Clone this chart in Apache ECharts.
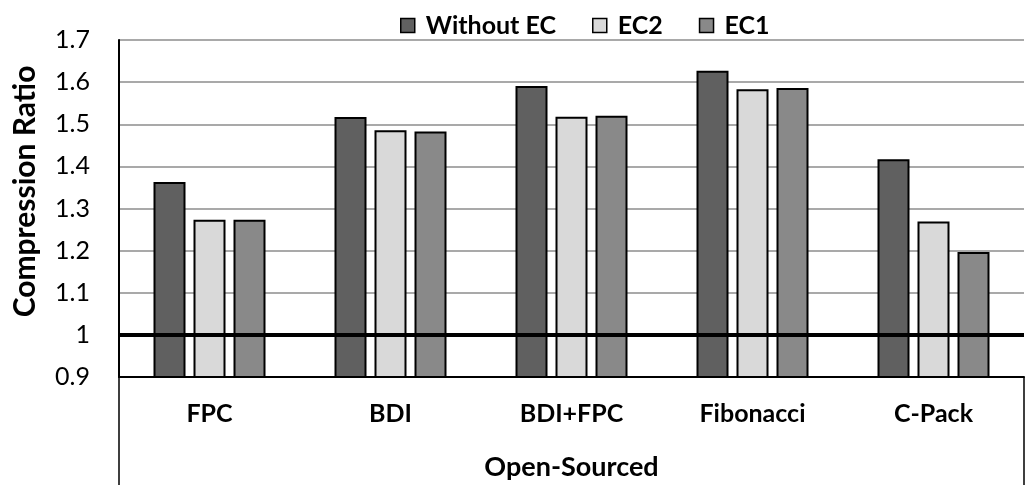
<!DOCTYPE html>
<html>
<head>
<meta charset="utf-8">
<script src="https://cdn.jsdelivr.net/npm/echarts@6/dist/echarts.min.js"></script>
<style>
  html, body { margin: 0; padding: 0; background: #fff; }
</style>
</head>
<body>
<div id="chart" style="width: 1028px; height: 485px"></div>
<script>
// data
const categories = ['FPC', 'BDI', 'BDI+FPC', 'Fibonacci', 'C-Pack']
const groupName = ['Open-Sourced']
const withoutEC = [1.363, 1.517, 1.591, 1.627, 1.417]
const ec2 = [1.273, 1.486, 1.518, 1.583, 1.269]
const ec1 = [1.273, 1.483, 1.520, 1.586, 1.197]

const font = 'Lato, "Liberation Sans", sans-serif'

const chart = echarts.init(document.getElementById('chart'))

const bar = (name, data, color) => ({
  name,
  type: 'bar',
  data,
  barWidth: 32,
  barGap: '25%',
  itemStyle: { color, borderColor: '#000', borderWidth: 2 }
})

const option = {
  animation: false,
  textStyle: { fontFamily: font },
  legend: {
    top: 8,
    left: 395,
    itemWidth: 14,
    itemHeight: 14,
    itemGap: 36,
    icon: 'rect',
    textStyle: {
      fontSize: 25, fontWeight: 'bold', color: '#000', fontFamily: font,
      padding: [0, 0, 0, 6]
    },
    itemStyle: { borderColor: '#000', borderWidth: 1.5 }
  },
  grid: { left: 119, right: 4, top: 40, bottom: 108 },
  xAxis: [
    {
      type: 'category',
      data: categories,
      axisLine: { lineStyle: { color: '#000', width: 2 } },
      axisTick: { show: false },
      axisLabel: { margin: 24, fontSize: 25, fontWeight: 'bold', color: '#000', fontFamily: font }
    },
    {
      // outer group box: left/right borders as inward ticks
      type: 'category',
      data: groupName,
      position: 'bottom',
      offset: 108,
      axisLine: { show: false },
      axisTick: { show: true, inside: true, length: 108, lineStyle: { color: '#000', width: 1.5 } },
      axisLabel: { inside: true, margin: 4, fontSize: 27, fontWeight: 'bold', color: '#000', fontFamily: font }
    }
  ],
  yAxis: {
    type: 'value',
    min: 0.9,
    max: 1.7,
    interval: 0.1,
    name: 'Compression Ratio',
    nameLocation: 'middle',
    nameGap: 79,
    nameTextStyle: {
      fontSize: 30, fontWeight: 'bold', color: '#000', fontFamily: font,
      padding: [0, 0, 0, 34]
    },
    axisLine: { show: true, lineStyle: { color: '#000', width: 2 } },
    axisTick: { show: false },
    axisLabel: {
      margin: 29,
      fontSize: 25,
      color: '#000',
      fontFamily: font,
      formatter: v => String(Math.round(v * 10) / 10)
    },
    splitLine: { lineStyle: { color: '#8c8c8c', width: 1.5 } }
  },
  series: [
    Object.assign(bar('Without EC', withoutEC, '#606060'), {
      markLine: {
        silent: true,
        symbol: 'none',
        label: { show: false },
        lineStyle: { color: '#000', width: 4, type: 'solid' },
        data: [{ yAxis: 1 }]
      }
    }),
    bar('EC2', ec2, '#d9d9d9'),
    bar('EC1', ec1, '#898989')
  ]
}

chart.setOption(option)
</script>
</body>
</html>
